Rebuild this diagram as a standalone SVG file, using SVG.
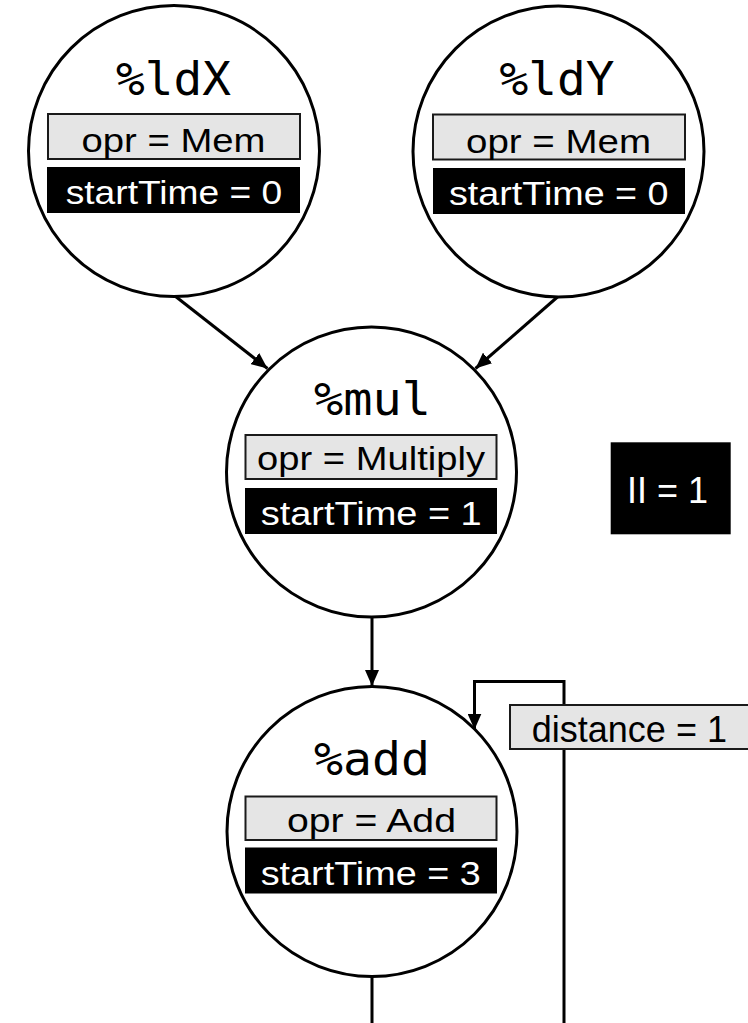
<svg xmlns="http://www.w3.org/2000/svg" width="748" height="1023" viewBox="0 0 748 1023">
<style>
.node{fill:#fff;stroke:#000;stroke-width:3}
.opr{fill:#e5e5e5;stroke:#1a1a1a;stroke-width:2}
.st{fill:#000}
.title{font-family:"DejaVu Sans Mono",monospace;font-size:46px;fill:#000}
.lbl{font-family:"Liberation Sans",Arial,sans-serif;font-size:33.5px;fill:#000}
.wl{font-family:"Liberation Sans",Arial,sans-serif;font-size:33.5px;fill:#fff}
.big{font-family:"Liberation Sans",Arial,sans-serif;font-size:36px}
.edge{fill:none;stroke:#000;stroke-width:3}
</style>
<defs>
<marker id="arr" markerUnits="userSpaceOnUse" markerWidth="17" markerHeight="14" refX="16" refY="7" orient="auto">
<path d="M0,0 L16,7 L0,14 Z" fill="#000"/>
</marker>
</defs>
<g id="connectors">
<line class="edge" x1="175" y1="296" x2="267.5" y2="368.5" marker-end="url(#arr)"/>
<line class="edge" x1="558" y1="296.5" x2="475.5" y2="368.5" marker-end="url(#arr)"/>
<line class="edge" x1="372" y1="617" x2="372" y2="686" marker-end="url(#arr)"/>
<path class="edge" d="M372,976 L372,1040 L564,1040 L564,681.5 L474.5,681.5 L474.5,729.5" marker-end="url(#arr)"/>
</g>
<g id="edge-label-distance">
<rect class="opr" x="510" y="705" width="260" height="44"/>
<text class="big" x="531.8" y="741.7" fill="#000">distance = 1</text>
</g>
<g id="node-ldX">
<circle class="node" cx="174" cy="151" r="145.5"/>
<text class="title" x="116" y="95" textLength="115" lengthAdjust="spacingAndGlyphs">%ldX</text>
<rect class="opr" x="48" y="114" width="252" height="45"/>
<text class="lbl" x="81.5" y="152" textLength="184" lengthAdjust="spacingAndGlyphs">opr = Mem</text>
<rect class="st" x="47" y="167" width="253" height="46"/>
<text class="wl" x="65.7" y="204" textLength="216.5" lengthAdjust="spacingAndGlyphs">startTime = 0</text>
</g>
<g id="node-ldY">
<circle class="node" cx="558.5" cy="151.5" r="145.5"/>
<text class="title" x="499.5" y="95" textLength="115" lengthAdjust="spacingAndGlyphs">%ldY</text>
<rect class="opr" x="433" y="114.5" width="252" height="45"/>
<text class="lbl" x="466" y="152.5" textLength="185" lengthAdjust="spacingAndGlyphs">opr = Mem</text>
<rect class="st" x="433" y="168" width="252" height="46"/>
<text class="wl" x="449" y="205" textLength="219.5" lengthAdjust="spacingAndGlyphs">startTime = 0</text>
</g>
<g id="node-mul">
<circle class="node" cx="371.5" cy="472" r="145"/>
<text class="title" x="314" y="415" textLength="117" lengthAdjust="spacingAndGlyphs">%mul</text>
<rect class="opr" x="245.5" y="435" width="251" height="44"/>
<text class="lbl" x="257" y="470" textLength="228" lengthAdjust="spacingAndGlyphs">opr = Multiply</text>
<rect class="st" x="245" y="488" width="252" height="46"/>
<text class="wl" x="260.7" y="525" textLength="221" lengthAdjust="spacingAndGlyphs">startTime = 1</text>
</g>
<g id="node-add">
<circle class="node" cx="372" cy="831.5" r="145"/>
<text class="title" x="314" y="775" textLength="116" lengthAdjust="spacingAndGlyphs">%add</text>
<rect class="opr" x="245.5" y="796.5" width="251" height="43.5"/>
<text class="lbl" x="287" y="831.5" textLength="169" lengthAdjust="spacingAndGlyphs">opr = Add</text>
<rect class="st" x="245" y="847.5" width="252" height="46"/>
<text class="wl" x="260.7" y="885" textLength="220" lengthAdjust="spacingAndGlyphs">startTime = 3</text>
</g>
<g id="ii-box">
<rect x="610.7" y="442.3" width="120" height="92" fill="#000"/>
<text class="big" x="627" y="503" fill="#fff">II = 1</text>
</g>
</svg>
